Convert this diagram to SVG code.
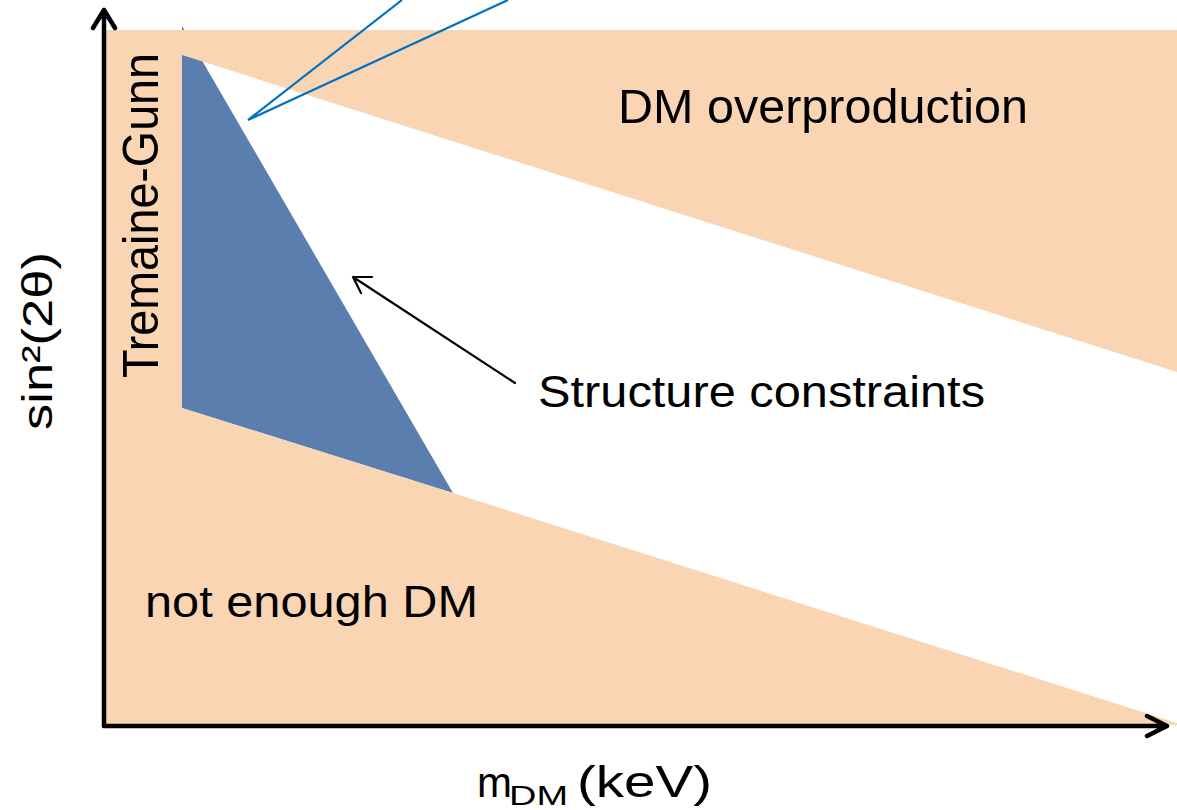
<svg xmlns="http://www.w3.org/2000/svg" width="1177" height="810" viewBox="0 0 1177 810">
<style>
.peach{fill:#F9D5B4;stroke:none}
.blue{fill:#5A7EAD;stroke:none}
.axis{fill:none;stroke:#000;stroke-width:4.5;stroke-linecap:round;stroke-linejoin:round}
.lbl{font-family:"Liberation Sans",Arial,sans-serif;fill:#000}
.ptr{fill:none;stroke:#0070C0;stroke-width:2.2}
.arr{fill:none;stroke:#000;stroke-width:2.2;stroke-linecap:round;stroke-linejoin:round}
</style>
<rect width="1177" height="810" fill="#fff"/>
<g id="structure-region">
<polygon class="blue" points="182,26 453,493 182,408"/>
</g>
<g id="excluded-regions">
<polygon class="peach" points="105,30 1177,30 1177,372 182,55 182,408 453,493 1177,723 1177,725 105,725"/>
</g>
<g id="axes">
<path class="axis" d="M104,726 L104,10 M93,28 L104,10 L115,28"/>
<path class="axis" d="M104,726 L1167,726 M1147,716 L1167,726 L1147,736"/>
</g>
<g id="connectors">
<path class="ptr" d="M248,120 L402,0 M248,120 L508,0"/>
<path class="arr" d="M515,383 L353,277 M372,277 L353,277 L361,293"/>
</g>
<g id="labels">
<text id="dm-over" class="lbl" x="618" y="123" font-size="49" textLength="410" lengthAdjust="spacingAndGlyphs">DM overproduction</text>
<text id="structure" class="lbl" x="538" y="407" font-size="44" textLength="447" lengthAdjust="spacingAndGlyphs">Structure constraints</text>
<text id="not-enough" class="lbl" x="145" y="617" font-size="44" textLength="333" lengthAdjust="spacingAndGlyphs">not enough DM</text>
<text id="tremaine" class="lbl" transform="translate(158,378) rotate(-90)" font-size="50" textLength="325" lengthAdjust="spacingAndGlyphs">Tremaine-Gunn</text>
<text id="ylabel" class="lbl" transform="translate(52,430) rotate(-90)" font-size="42" textLength="178" lengthAdjust="spacingAndGlyphs">sin²(2θ)</text>
<text id="xlabel" class="lbl" y="797" font-size="42"><tspan x="477">m</tspan><tspan x="509" y="805" font-size="28" textLength="59" lengthAdjust="spacingAndGlyphs">DM</tspan><tspan x="577" y="797" font-size="44" textLength="135" lengthAdjust="spacingAndGlyphs">(keV)</tspan></text>
</g>
</svg>
